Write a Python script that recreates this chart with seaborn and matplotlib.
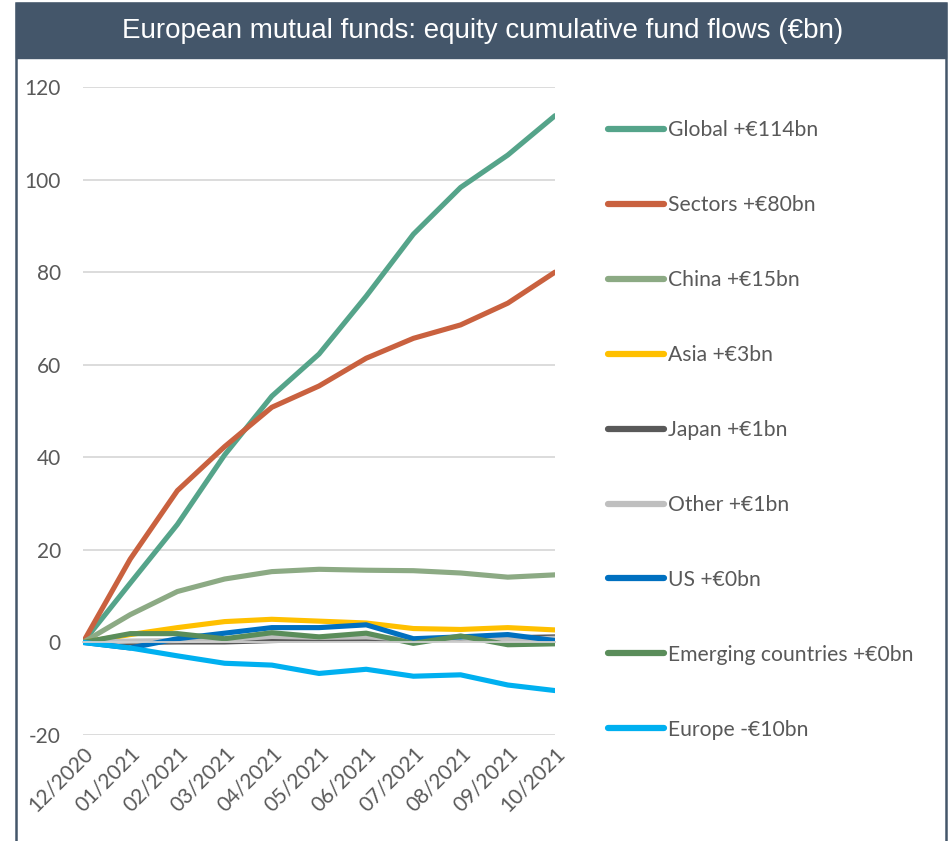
import matplotlib
matplotlib.use("Agg")
import matplotlib.pyplot as plt
import seaborn as sns
import pandas as pd
from matplotlib.lines import Line2D
from matplotlib.patches import Rectangle

months = ["12/2020", "01/2021", "02/2021", "03/2021", "04/2021", "05/2021",
          "06/2021", "07/2021", "08/2021", "09/2021", "10/2021"]

global_flows = [0, 12.8, 25.5, 40.5, 53.2, 62.3, 74.8, 88.2, 98.3, 105.3, 113.8]
sectors_flows = [0, 18.0, 32.8, 42.3, 50.8, 55.4, 61.4, 65.7, 68.6, 73.3, 80.0]
china_flows = [0, 6.0, 11.0, 13.7, 15.3, 15.8, 15.6, 15.5, 15.0, 14.1, 14.6]
asia_flows = [0, 1.7, 3.2, 4.5, 5.0, 4.6, 4.2, 3.0, 2.8, 3.2, 2.7]
japan_flows = [0, 0.0, 0.1, 0.1, 0.4, 0.6, 0.8, 0.4, 0.8, 1.0, 1.2]
other_flows = [0, 0.3, 0.4, 0.6, 1.3, 1.1, 1.2, 0.6, 0.9, 0.6, 0.9]
us_flows = [0, -1.2, 0.8, 2.0, 3.2, 3.2, 3.8, 0.8, 1.2, 1.7, 0.4]
emerging_flows = [0, 1.9, 1.9, 0.8, 2.1, 1.2, 2.0, -0.2, 1.4, -0.5, -0.3]
europe_flows = [0, -1.2, -2.9, -4.5, -4.9, -6.7, -5.8, -7.3, -7.0, -9.2, -10.4]

series_names = ["Global +€114bn", "Sectors +€80bn", "China +€15bn", "Asia +€3bn",
                "Japan +€1bn", "Other +€1bn", "US +€0bn",
                "Emerging countries +€0bn", "Europe -€10bn"]
series_values = [global_flows, sectors_flows, china_flows, asia_flows, japan_flows,
                 other_flows, us_flows, emerging_flows, europe_flows]
series_colors = ["#55A48A", "#C9613F", "#8CAA84", "#FFC000", "#595959",
                 "#BFBFBF", "#0070C0", "#5A8D5A", "#00B0F0"]

y_ticks = [-20, 0, 20, 40, 60, 80, 100, 120]

rows = []
for name, vals in zip(series_names, series_values):
    for i, v in enumerate(vals):
        rows.append({"month": i, "series": name, "flow": v})
df = pd.DataFrame(rows)

sns.set_theme(style="white")
plt.rcParams["font.family"] = ["Lato", "DejaVu Sans"]

fig = plt.figure(figsize=(9.51, 8.41), dpi=100)
fig.patch.set_facecolor("white")

# Frame (open at the bottom) and title band
frame_col = "#44566A"
fig.add_artist(Rectangle((16 / 951, -0.05), 930 / 951, 1.05 - 3 / 841, transform=fig.transFigure,
                         facecolor="none", edgecolor=frame_col, linewidth=1.8, zorder=0))
fig.add_artist(Rectangle((16 / 951, 1 - 58 / 841), 930 / 951, 55 / 841, transform=fig.transFigure,
                         facecolor=frame_col, edgecolor=frame_col, linewidth=1.0, zorder=1))
fig.text(483 / 951, 1 - 31 / 841, "European mutual funds: equity cumulative fund flows (€bn)",
         ha="center", va="center", color="white", fontsize=20,
         family=["Liberation Sans Narrow", "Liberation Sans", "DejaVu Sans"])

ax = fig.add_axes([83 / 951, 1 - 735 / 841, (555 - 83) / 951, (735 - 87) / 841])

sns.lineplot(data=df, x="month", y="flow", hue="series", hue_order=series_names,
             palette=series_colors, linewidth=3.7, ax=ax, legend=False, sort=False)

ax.set_xlim(0, len(months) - 1)
ax.set_ylim(-20, 120)
ax.set_yticks(y_ticks)
ax.set_yticklabels([str(t) for t in y_ticks])
ax.yaxis.grid(True, color="#D9D9D9", linewidth=1.3)
ax.set_axisbelow(True)
ax.set_xlabel("")
ax.set_ylabel("")
ax.tick_params(axis="y", length=0, pad=16, labelsize=15, labelcolor="#595959")

for s in ["top", "right", "left"]:
    ax.spines[s].set_visible(False)
ax.spines["bottom"].set_position(("data", 0))
ax.spines["bottom"].set_color("#D0D0D0")
ax.spines["bottom"].set_linewidth(1.3)
ax.set_xticks(range(len(months)))
ax.tick_params(axis="x", direction="out", length=4, width=1.3, color="#D0D0D0",
               labelbottom=False)

sec = ax.secondary_xaxis("bottom")
sec.set_xticks(range(len(months)))
sec.set_xticklabels(months, rotation=45, ha="right", rotation_mode="anchor")
sec.tick_params(length=0, pad=6, labelsize=15, labelcolor="#595959")
sec.spines["bottom"].set_visible(False)

handles = [Line2D([0], [0], color=c, linewidth=4.5, solid_capstyle="round")
           for c in series_colors]
leg = fig.legend(handles, series_names, loc="upper left",
                 bbox_to_anchor=(600 / 951, 1 - 112 / 841), frameon=False,
                 fontsize=15.2, labelcolor="#595959", handlelength=2.65,
                 handletextpad=0.15, labelspacing=2.60, borderaxespad=0)

fig.savefig("out.png", dpi=100, facecolor="white")
